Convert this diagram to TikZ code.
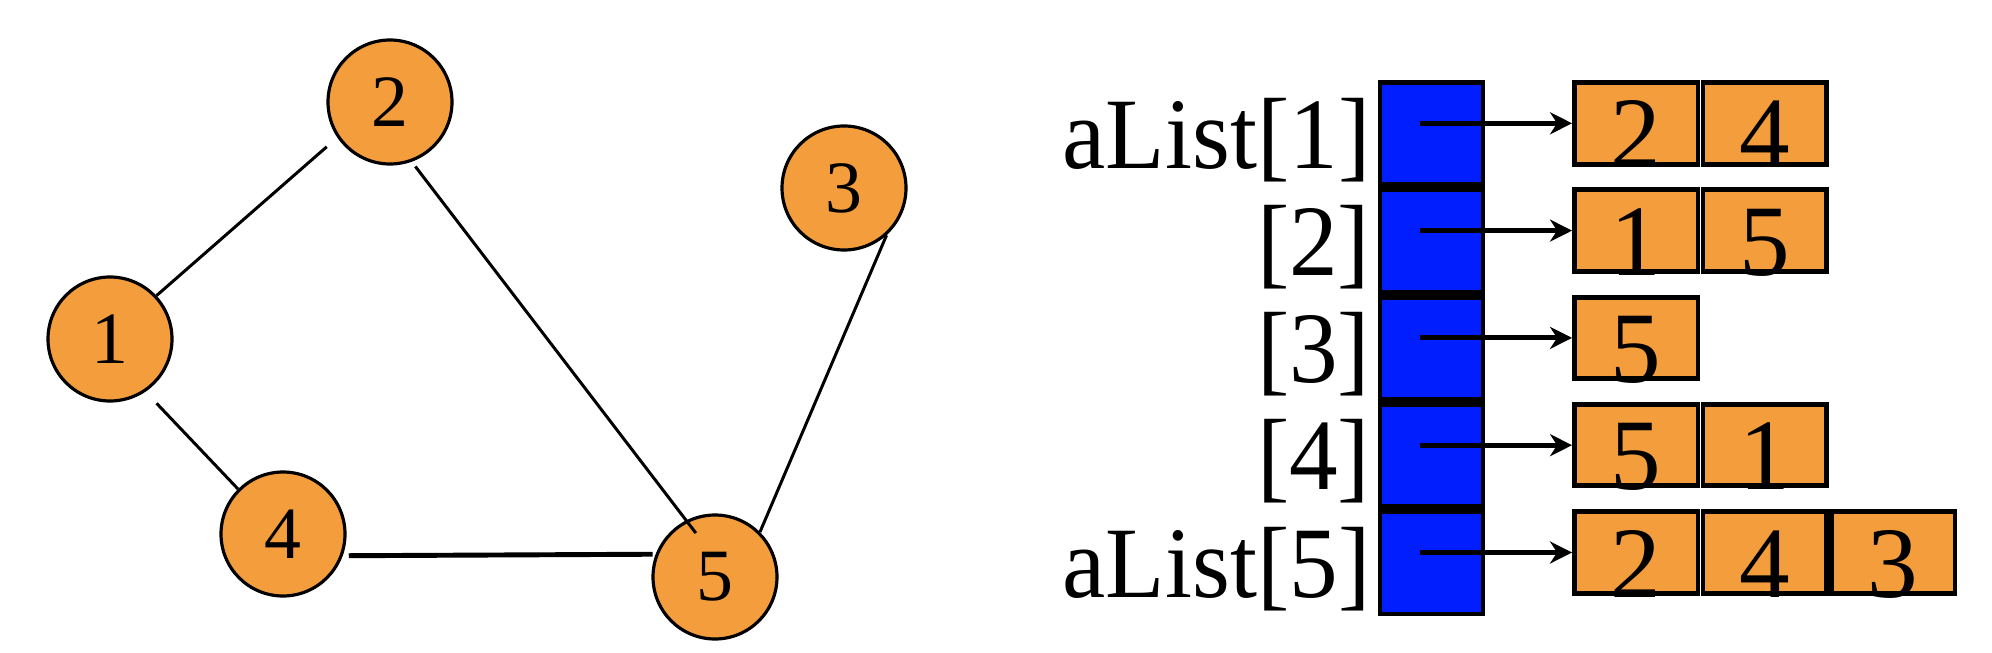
\documentclass[tikz,border=0pt]{standalone}
\usepackage{fontspec}
\setmainfont{Liberation Serif}
\usetikzlibrary{arrows.meta,calc}

\definecolor{vorange}{RGB}{243,157,60}
\definecolor{slotblue}{RGB}{0,30,255}

\tikzset{
  vertex/.style={circle, draw, line width=0.9pt, fill=vorange, minimum size=1.24cm, inner sep=0pt, font=\fontsize{21}{21}\selectfont},
  edge/.style={line width=0.85pt},
  slot/.style={rectangle, draw, line width=1.4pt, fill=slotblue, minimum width=1.03cm, minimum height=1.023cm, inner sep=0pt},
  cell/.style={rectangle, draw, line width=1.4pt, fill=vorange, minimum width=1.235cm, minimum height=0.815cm, inner sep=0pt},
  ptr/.style={-{Stealth[length=0.22cm, width=0.22cm, inset=0.07cm]}, line width=1.4pt},
  big/.style={font=\fontsize{28.8}{29}\selectfont, inner sep=0pt}
}

\begin{document}
\begin{tikzpicture}
    \useasboundingbox (0,0) rectangle (19.92,6.52);

    % Graph
    \node[vertex] (v1) at (1.10,3.13) {1};
    \node[vertex] (v2) at (3.90,5.50) {2};
    \node[vertex] (v3) at (8.44,4.64) {3};
    \node[vertex] (v4) at (2.83,1.18) {4};
    \node[vertex] (v5) at (7.15,0.75) {5};

    \draw[edge, shorten >=0.14cm] (v1.43) -- (v2.214);
    \draw[edge, shorten <=0.06cm, shorten >=-0.16cm] (v2.-70) -- (v5.117);
    \draw[edge] (v3.-48) -- (v5.45);
    \draw[edge, shorten <=0.16cm] (v1.-56) -- (v4.135);
    \draw[edge, line width=1.4pt, shorten <=0.06cm, shorten >=0.03cm] (v4.-20) -- (v5.159.4);

    % Adjacency lists
    \foreach \lab/\items [count=\i] in {aList[1]/{2,4}, [2]/{1,5}, [3]/{5}, [4]/{5,1}, aList[5]/{2,4,3}} {
        \node[slot] (slot\i) at (14.315, {5.1835-1.073*(\i-1)}) {};
        \node[big, anchor=base east, xscale=0.96] (lab\i) at ($(slot\i.center)+(-0.605,-0.344)$) {\lab};
        \foreach \d [count=\j] in \items {
            \node[cell] (cell\i\j) at ({16.3625+1.285*(\j-1)}, {5.287-1.073*(\i-1)}) {};
            \node[big, anchor=base] (d\i\j) at ($(cell\i\j.center)+(0,-0.446)$) {\d};
        }
        \draw[ptr] ($(slot\i.center |- cell\i1.west)+(-0.115,0)$) -- (cell\i1.west);
    }
\end{tikzpicture}
\end{document}
